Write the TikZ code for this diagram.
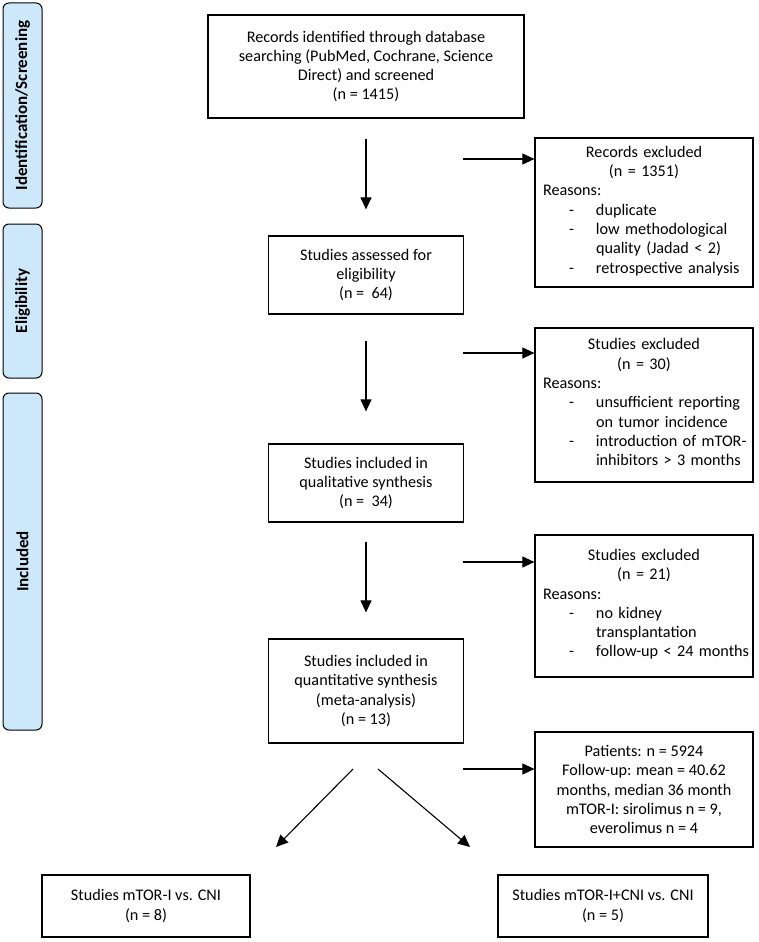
\documentclass[tikz,border=0pt]{standalone}
\usepackage{fontspec}
\setmainfont{Carlito}
\usepackage{tikz}
\usetikzlibrary{arrows.meta}
\definecolor{stagefill}{RGB}{205,232,250}
\setlength{\parindent}{0pt}

\begin{document}
\begin{tikzpicture}[x=1pt,y=-1pt,
                    every node/.style={inner sep=0pt, font=\fontsize{16.2}{19.3}\selectfont},
                    flowbox/.style={draw, line width=1.2pt, align=center, minimum width=195pt},
                    exclbox/.style={draw, line width=1.2pt, text width=202pt, inner xsep=8pt, align=left},
                    stage/.style={draw, line width=1pt, fill=stagefill, rounded corners=6pt,
                                  rotate=90, minimum height=39pt, font=\fontsize{17}{20}\selectfont\bfseries},
                    flow/.style={line width=1.1pt, -{Triangle[length=12pt,width=11pt]}}]
                    \useasboundingbox (0,0) rectangle (758,942);
                    % stages on the left
                    \node[stage, minimum width=205pt] (ident) at (22.5,105.5) {Identification/Screening};
                    \node[stage, minimum width=154pt] (elig) at (22.5,301) {Eligibility};
                    \node[stage, minimum width=337pt] (incl) at (22.5,561.5) {Included};
                    % main flow
                    \node[flowbox, minimum width=316pt, minimum height=103pt] (found) at (366,66.5)
                        {Records identified through database\\searching (PubMed, Cochrane, Science\\Direct) and screened\\(n = 1415)};
                    \node[flowbox, minimum height=78pt] (assess) at (366,275)
                        {Studies assessed for\\eligibility\\(n =\ \ 64)};
                    \node[flowbox, minimum height=78pt] (qual) at (366,483)
                        {Studies included in\\qualitative synthesis\\(n =\ \ 34)};
                    \node[flowbox, minimum height=104pt] (quant) at (366,691)
                        {Studies included in\\quantitative synthesis\\(meta-analysis)\\(n = 13)};
                    % exclusions
                    \node[exclbox, minimum height=149pt] (recex) at (644,212.5) {%
                        {\centering Records excluded\\(n = 1351)\par}
                        Reasons:\par
                        \begin{tabular}[t]{@{\hspace{26pt}}p{27pt}@{}l@{}}
                        -&duplicate\\
                        -&low methodological\\
                        &quality (Jadad < 2)\\
                        -&retrospective analysis
                        \end{tabular}};
                    \node[exclbox, minimum height=154pt] (fullex) at (644,405) {%
                        {\centering Studies excluded\\(n = 30)\par}
                        Reasons:\par
                        \begin{tabular}[t]{@{\hspace{26pt}}p{27pt}@{}l@{}}
                        -&unsufficient reporting\\
                        &on tumor incidence\\
                        -&introduction of mTOR-\\
                        &inhibitors > 3 months
                        \end{tabular}};
                    \node[exclbox, minimum height=142pt] (synex) at (644,606) {%
                        {\centering Studies excluded\\(n = 21)\par}
                        Reasons:\par
                        \begin{tabular}[t]{@{\hspace{26pt}}p{27pt}@{}l@{}}
                        -&no kidney\\
                        &transplantation\\
                        -&follow-up < 24 months
                        \end{tabular}};
                    \node[flowbox, minimum width=218pt, minimum height=115pt] (pat) at (644,789.5)
                        {Patients: n = 5924\\Follow-up: mean = 40.62\\months, median 36 month\\mTOR-I: sirolimus n = 9,\\everolimus n = 4};
                    % subgroups
                    \node[flowbox, minimum width=208pt, minimum height=62pt] (monoI) at (146,906)
                        {Studies mTOR-I vs. CNI\\(n = 8)};
                    \node[flowbox, minimum width=210pt, minimum height=62pt] (comboI) at (603,906)
                        {Studies mTOR-I+CNI vs. CNI\\(n = 5)};
                    % arrows
                    \draw[flow] ([yshift=-20pt]found.south) -- ([yshift=26pt]assess.north);
                    \draw[flow] ([yshift=-26pt]assess.south) -- ([yshift=32pt]qual.north);
                    \draw[flow] ([yshift=-19pt]qual.south) -- ([yshift=26pt]quant.north);
                    \coordinate (h1) at (463,159);
                    \coordinate (h2) at (463,353);
                    \coordinate (h3) at (463,562);
                    \coordinate (h4) at (463,769);
                    \draw[flow] (h1) -- (h1 -| recex.west);
                    \draw[flow] (h2) -- (h2 -| fullex.west);
                    \draw[flow] (h3) -- (h3 -| synex.west);
                    \draw[flow] (h4) -- (h4 -| pat.west);
                    \coordinate (splitL) at (353,769);
                    \coordinate (splitR) at (378,769);
                    \coordinate (endL) at (276,847);
                    \coordinate (endR) at (470,847);
                    \draw[flow] (splitL) -- (endL);
                    \draw[flow] (splitR) -- (endR);
\end{tikzpicture}
\end{document}
